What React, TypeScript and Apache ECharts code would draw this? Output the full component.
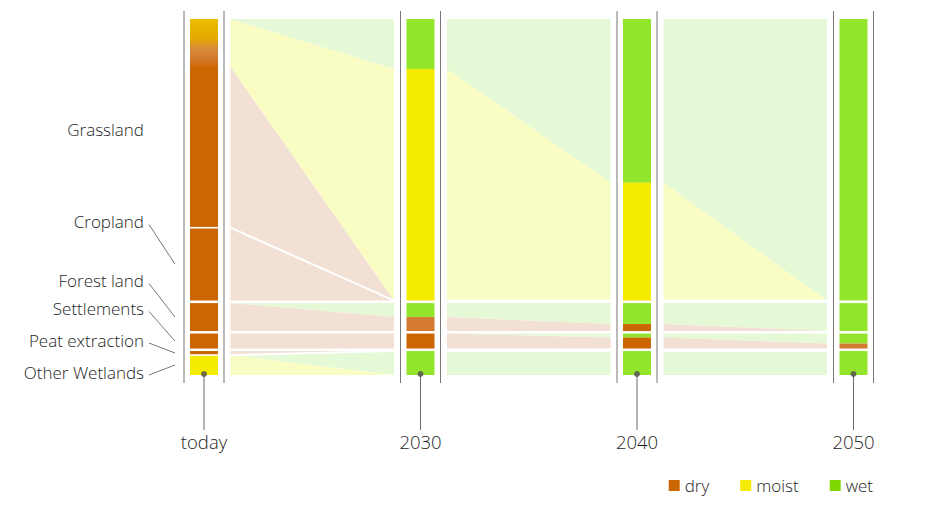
import React, { useEffect, useRef } from "react";
import * as echarts from "echarts";

// ---------- data (areas, arbitrary area units) ----------
const years = ["today", "2030", "2040", "2050"];
const categories = ["Grassland", "Cropland", "Forest land", "Settlements", "Peat extraction", "Other Wetlands"];
const moistureClasses = ["wet", "moist", "dry"];

const grasslandWet = [0, 50, 164, 282];
const grasslandMoist = [48, 232, 118, 0];
const grasslandDry = [161, 0, 0, 0];
const croplandWet = [0, 0, 0, 0];
const croplandMoist = [0, 0, 0, 0];
const croplandDry = [73, 0, 0, 0];
const forestWet = [0, 14, 21, 28];
const forestMoist = [0, 0, 0, 0];
const forestDry = [28, 14, 7, 0];
const settlementsWet = [0, 0, 4, 10];
const settlementsMoist = [0, 0, 0, 0];
const settlementsDry = [15, 15, 11, 5];
const peatWet = [0, 0, 0, 0];
const peatMoist = [0, 0, 0, 0];
const peatDry = [4, 0, 0, 0];
const wetlandsWet = [0, 24, 24, 24];
const wetlandsMoist = [20, 0, 0, 0];
const wetlandsDry = [0, 0, 0, 0];

// rows of the chart (categories drawn together)
const categoryGroups = [[0, 1], [2], [3], [4, 5]];
const legendItems = ["dry", "moist", "wet"];

// ---------- style ----------
const FONT = "'Open Sans', 'DejaVu Sans', sans-serif";
const TEXT_COLOR = "#1e1e1e";
const SOLID: Record<string, string> = { wet: "#93e52b", moist: "#f3ec00", dry: "#cc6600" };
const LIGHT: Record<string, string> = { wet: "#e5f9d6", moist: "#f9fcc3", dry: "#f3e0d4" };
const LEGEND_COLORS: Record<string, string> = { dry: "#cc6600", moist: "#f5ec00", wet: "#80d600" };
const DRY_PALE = "#d47a32";
const paleDrySegments = [[2, 1], [3, 3]]; // [category, year]
const GROUP_GAP = 2.5;
const BAR_HALF = 14;
const BAND_INSET = 26.5;
const FRAME_OFFSET = 20;
const TICK_LENGTH = 55;
const LABEL_RIGHT = 144;
const LABEL_Y = [129, 221.5, 280.5, 308.5, 340, 372];

const catValues: number[][][] = [
  [grasslandWet, grasslandMoist, grasslandDry],
  [croplandWet, croplandMoist, croplandDry],
  [forestWet, forestMoist, forestDry],
  [settlementsWet, settlementsMoist, settlementsDry],
  [peatWet, peatMoist, peatDry],
  [wetlandsWet, wetlandsMoist, wetlandsDry],
];

function computeLayout() {
  const groupSize = categoryGroups.map((g) =>
    Math.max(
      ...years.map((_, j) => g.reduce((s, c) => s + catValues[c].reduce((a, arr) => a + arr[j], 0), 0))
    )
  );
  const groupStart: number[] = [];
  let acc = 0;
  groupSize.forEach((s, g) => {
    groupStart.push(acc);
    acc += s + (g < groupSize.length - 1 ? GROUP_GAP : 0);
  });
  const total = acc;
  const seg = categories.map(() => moistureClasses.map(() => years.map(() => [0, 0])));
  const catStart = categories.map(() => years.map(() => 0));
  const catEnd = categories.map(() => years.map(() => 0));
  categoryGroups.forEach((g, gi) => {
    years.forEach((_, j) => {
      let cur = groupStart[gi];
      g.forEach((c) => {
        catStart[c][j] = cur;
        moistureClasses.forEach((_, k) => {
          const v = catValues[c][k][j];
          seg[c][k][j] = [cur, cur + v];
          cur += v;
        });
        catEnd[c][j] = cur;
      });
    });
  });
  return { groupSize, groupStart, total, seg, catStart, catEnd };
}

function buildOption() {
  const L = computeLayout();

  const bandData: number[][] = [];
  const bandLineData: number[][] = [];
  for (let j = 0; j < years.length - 1; j++) {
    categories.forEach((_, c) => {
      moistureClasses.forEach((_, k) => {
        const a = L.seg[c][k][j];
        const b = L.seg[c][k][j + 1];
        if (a[1] - a[0] > 0 || b[1] - b[0] > 0) bandData.push([j, a[0], a[1], b[0], b[1], k]);
      });
    });
    categoryGroups.forEach((g) => {
      for (let i = 0; i < g.length - 1; i++) {
        const c = g[i];
        bandLineData.push([j, L.catEnd[c][j], L.catEnd[c][j + 1]]);
      }
    });
  }

  const barData: number[][] = [];
  const barLineData: number[][] = [];
  years.forEach((_, j) => {
    categories.forEach((_, c) => {
      moistureClasses.forEach((_, k) => {
        const s = L.seg[c][k][j];
        if (s[1] - s[0] > 0) barData.push([j, s[0], s[1], k, c]);
      });
    });
    categoryGroups.forEach((g, gi) => {
      const gs = L.groupStart[gi];
      const ge = gs + L.groupSize[gi];
      for (let i = 0; i < g.length - 1; i++) {
        const y = L.catEnd[g[i]][j];
        if (y > gs + 0.01 && y < ge - 0.01) barLineData.push([j, y]);
      }
    });
  });

  const frameData = years.map((_, j) => [j, 0]);
  const dotData = years.map((_, j) => [j, L.total]);
  const labelData = categories.map((_, c) => [0, (L.catStart[c][0] + L.catEnd[c][0]) / 2, c]);

  const gradient = new echarts.graphic.LinearGradient(0, 0, 0, 1, [
    { offset: 0, color: "#ebbf00" },
    { offset: 0.4, color: "#e4a900" },
    { offset: 0.6, color: "#d98d36" },
    { offset: 0.82, color: "#d47a30" },
    { offset: 1, color: "#ce6a08" },
  ]);

  const isPale = (c: number, j: number) => paleDrySegments.some((p) => p[0] === c && p[1] === j);

  return {
    animation: false,
    backgroundColor: "#ffffff",
    grid: { left: 204, right: 77.5, top: 19, bottom: 137, containLabel: false },
    xAxis: {
      type: "value",
      min: 0,
      max: years.length - 1,
      interval: 1,
      axisLine: { show: false },
      splitLine: { show: false },
      axisTick: { show: false },
      axisLabel: {
        show: true,
        margin: 57,
        showMinLabel: true,
        showMaxLabel: true,
        formatter: (v: number) => years[Math.round(v)] ?? "",
        fontFamily: FONT,
        fontSize: 18.5,
        fontWeight: 300,
        color: TEXT_COLOR,
      },
    },
    yAxis: { type: "value", inverse: true, min: 0, max: L.total, show: false },
    legend: {
      data: legendItems,
      right: 53,
      top: 472,
      icon: "rect",
      itemWidth: 11,
      itemHeight: 11,
      itemGap: 31,
      selectedMode: false,
      textStyle: { fontFamily: FONT, fontSize: 17, fontWeight: 300, color: TEXT_COLOR },
    },
    series: [
      ...legendItems.map((n) => ({
        name: n,
        type: "bar",
        data: [],
        itemStyle: { color: LEGEND_COLORS[n] },
      })),
      {
        type: "custom",
        z: 1,
        silent: true,
        data: bandData,
        renderItem: (params: any, api: any) => {
          const j = api.value(0);
          const k = api.value(5);
          const l1 = api.coord([j, api.value(1)]);
          const l2 = api.coord([j, api.value(2)]);
          const r1 = api.coord([j + 1, api.value(3)]);
          const r2 = api.coord([j + 1, api.value(4)]);
          const xL = l1[0] + BAND_INSET;
          const xR = r1[0] - BAND_INSET;
          return {
            type: "polygon",
            shape: { points: [[xL, l1[1]], [xR, r1[1]], [xR, r2[1]], [xL, l2[1]]] },
            style: { fill: LIGHT[moistureClasses[k]] },
          };
        },
      },
      {
        type: "custom",
        z: 2,
        silent: true,
        data: bandLineData,
        renderItem: (params: any, api: any) => {
          const j = api.value(0);
          const l = api.coord([j, api.value(1)]);
          const r = api.coord([j + 1, api.value(2)]);
          return {
            type: "line",
            shape: { x1: l[0] + BAND_INSET, y1: l[1], x2: r[0] - BAND_INSET, y2: r[1] },
            style: { stroke: "#ffffff", lineWidth: 2 },
          };
        },
      },
      {
        type: "custom",
        z: 2,
        silent: true,
        data: frameData,
        renderItem: (params: any, api: any) => {
          const j = api.value(0);
          const top = api.coord([j, 0]);
          const bot = api.coord([j, L.total]);
          const y1 = top[1] - 8;
          const y2 = bot[1] + 8;
          const st = { stroke: "#777777", lineWidth: 1 };
          return {
            type: "group",
            children: [
              { type: "line", shape: { x1: top[0] - FRAME_OFFSET, y1, x2: top[0] - FRAME_OFFSET, y2 }, style: st },
              { type: "line", shape: { x1: top[0] + FRAME_OFFSET, y1, x2: top[0] + FRAME_OFFSET, y2 }, style: st },
              {
                type: "line",
                shape: { x1: bot[0], y1: bot[1] - 1, x2: bot[0], y2: bot[1] + TICK_LENGTH },
                style: { stroke: "#6a6a6a", lineWidth: 1 },
              },
            ],
          };
        },
      },
      {
        type: "custom",
        z: 3,
        silent: true,
        data: barData,
        renderItem: (params: any, api: any) => {
          const j = api.value(0);
          const k = api.value(3);
          const c = api.value(4);
          const p1 = api.coord([j, api.value(1)]);
          const p2 = api.coord([j, api.value(2)]);
          let fill: any = SOLID[moistureClasses[k]];
          if (c === 0 && j === 0 && k === 1) fill = gradient;
          if (k === 2 && isPale(c, j)) fill = DRY_PALE;
          return {
            type: "rect",
            shape: { x: p1[0] - BAR_HALF, y: p1[1], width: BAR_HALF * 2, height: p2[1] - p1[1] },
            style: { fill },
          };
        },
      },
      {
        type: "custom",
        z: 4,
        silent: true,
        data: barLineData,
        renderItem: (params: any, api: any) => {
          const j = api.value(0);
          const p = api.coord([j, api.value(1)]);
          return {
            type: "line",
            shape: { x1: p[0] - BAR_HALF, y1: p[1], x2: p[0] + BAR_HALF, y2: p[1] },
            style: { stroke: "#ffffff", lineWidth: 1.6 },
          };
        },
      },
      {
        type: "scatter",
        z: 5,
        silent: true,
        symbol: "circle",
        symbolSize: 6,
        symbolOffset: [0, -1],
        itemStyle: { color: "#4d4d4d" },
        data: dotData,
      },
      {
        type: "custom",
        z: 5,
        silent: true,
        data: labelData,
        renderItem: (params: any, api: any) => {
          const c = api.value(2);
          const p = api.coord([0, api.value(1)]);
          const ly = LABEL_Y[c];
          const children: any[] = [
            {
              type: "text",
              style: {
                text: categories[c],
                x: LABEL_RIGHT,
                y: ly,
                align: "right",
                verticalAlign: "middle",
                fill: TEXT_COLOR,
                fontFamily: FONT,
                fontSize: 17,
                fontWeight: 300,
              },
            },
          ];
          if (c > 0) {
            children.push({
              type: "line",
              shape: { x1: LABEL_RIGHT + 5, y1: ly + 3, x2: p[0] - 29, y2: p[1] },
              style: { stroke: "#555", lineWidth: 0.8 },
            });
          }
          return { type: "group", children };
        },
      },
    ],
  };
}

export default function App() {
  const ref = useRef<HTMLDivElement>(null);
  useEffect(() => {
    if (!ref.current) return;
    const chart = echarts.init(ref.current, null, { renderer: "svg" });
    chart.setOption(buildOption() as any);
    return () => chart.dispose();
  }, []);
  return (
    <div
      ref={ref}
      style={{ position: "absolute", left: 0, top: 0, width: 931, height: 512, background: "#fff" }}
    />
  );
}
